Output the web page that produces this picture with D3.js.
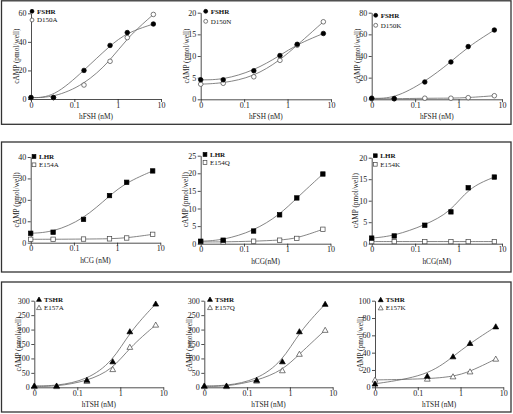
<!DOCTYPE html>
<html><head><meta charset="utf-8">
<script src="https://cdn.jsdelivr.net/npm/d3@7"></script>
<style>body{margin:0;background:#fff}svg{display:block}</style>
</head><body>
<svg id="c" width="513" height="414"></svg>
<script>
// ---- data ----
const doses = [0, 0.033, 0.167, 0.667, 1.667, 6.667];
const xTickValues = [0.01, 0.1, 1, 10];
const xTickLabels = ["0", "0.1", "1", "10"];

const fshr1 = [1, 1, 20, 37.5, 46.5, 52.5];
const d150a = [1, 1, 9.8, 26.4, 43, 59.2];
const fshr2 = [4.5, 4.5, 6.6, 10.1, 12.7, 15.2];
const d150n = [3.5, 3.7, 5.2, 9.0, 12.5, 17.9];
const fshr3 = [1, 0.6, 16, 34.5, 48.7, 64];
const d150k = [0.5, 0.5, 1, 1, 1.5, 3.3];

const lhr4 = [4.4, 4.9, 10.9, 22, 28.2, 33.5];
const e154a = [1.6, 1.6, 1.7, 1.8, 2.2, 3.9];
const lhr5 = [0.7, 1.0, 3.6, 8.2, 13, 19.8];
const e154q = [0.5, 0.5, 0.7, 1.0, 1.5, 4.1];
const lhr6 = [1.3, 1.8, 4.3, 7.4, 13, 15.5];
const e154k = [0.5, 0.5, 0.5, 0.5, 0.5, 0.5];

const tshr7 = [5, 5, 25, 89, 193, 289];
const e157a = [3, 3, 21, 62, 139, 216];
const tshr8 = [5, 5, 25, 89, 193, 288];
const e157q = [3, 3, 22, 58, 115, 198];
const tshr9 = [4, null, 13, 35.4, 50.8, 70];
const e157k = [8.5, null, 9.6, 12.3, 18, 32.7];

const names = [["FSHR","D150A"],["FSHR","D150N"],["FSHR","D150K"],
               ["LHR","E154A"],["LHR","E154Q"],["LHR","E154K"],
               ["TSHR","E157A"],["TSHR","E157Q"],["TSHR","E157K"]];
const series = [[fshr1,d150a],[fshr2,d150n],[fshr3,d150k],
                [lhr4,e154a],[lhr5,e154q],[lhr6,e154k],
                [tshr7,e157a],[tshr8,e157q],[tshr9,e157k]];
const xLabels = ["hFSH (nM)","hFSH (nM)","hFSH (nM)","hCG (nM)","hCG(nM)","hCG(nM)","hTSH (nM)","hTSH (nM)","hTSH (nM)"];
const yLabel = "cAMP (pmol/well)";
const yMaxes = [60, 20, 80, 40, 25, 20, 300, 300, 100];
const ySteps = [20, 5, 20, 10, 5, 5, 50, 50, 20];
const shapes = ["circle","circle","circle","square","square","square","triangle","triangle","triangle"];

// ---- layout (pixels) ----
const layout = [
  {ox:31,   x10:161,   y0:99,    yt:13.3,  lx:32,    ly:11.3,  ldy:8.7, ylx:16.7},
  {ox:200.7,x10:331,   y0:99.3,  yt:12.7,  lx:205.7, ly:11.3,  ldy:10,  ylx:186.7},
  {ox:371.7,x10:502,   y0:99.3,  yt:12.7,  lx:375.7, ly:15.3,  ldy:10,  ylx:357.3},
  {ox:30.7, x10:160.3, y0:242.7, yt:157,   lx:34,    ly:156.5, ldy:8.3, ylx:16},
  {ox:200.7,x10:330.5, y0:243.7, yt:155.7, lx:205,   ly:154.5, ldy:8,   ylx:185},
  {ox:371.7,x10:502,   y0:243.7, yt:157.7, lx:375.3, ly:155.7, ldy:8.6, ylx:355.7},
  {ox:34.3, x10:163.3, y0:387.3, yt:300.7, lx:39,    ly:299.5, ldy:8.2, ylx:18.3},
  {ox:204.3,x10:332.7, y0:387.3, yt:300.7, lx:210,   ly:299.5, ldy:8.2, ylx:189},
  {ox:375,  x10:503.3, y0:387.3, yt:300.7, lx:380.7, ly:299.8, ldy:8.2, ylx:360}
];
const boxes = [[1.5,0.8,509.5,123.5],[1.5,142,509.5,130],[1.5,282,509.5,130]];

const svg = d3.select("#c");
const FONT = "'Liberation Serif','Times New Roman',serif";

boxes.forEach(b => svg.append("rect").attr("x",b[0]).attr("y",b[1]).attr("width",b[2]).attr("height",b[3])
  .attr("fill","none").attr("stroke","#333").attr("stroke-width",1.3));

function marker(g, shape, filled, x, y, s) {
  const fill = filled ? "#000" : "#fff";
  const stroke = filled ? "#000" : "#444";
  if (shape === "circle") {
    g.append("circle").attr("cx",x).attr("cy",y).attr("r",2.3*s).attr("fill",fill).attr("stroke",stroke).attr("stroke-width",0.7);
  } else if (shape === "square") {
    g.append("rect").attr("x",x-2.2*s).attr("y",y-2.2*s).attr("width",4.4*s).attr("height",4.4*s).attr("fill",fill).attr("stroke",stroke).attr("stroke-width",0.7);
  } else {
    g.append("path").attr("d",`M${x},${y-2.9*s}L${x+2.9*s},${y+2.2*s}L${x-2.9*s},${y+2.2*s}Z`).attr("fill",fill).attr("stroke",stroke).attr("stroke-width",0.7);
  }
}

layout.forEach((L, i) => {
  const g = svg.append("g");
  const x = d3.scaleLog().domain([0.01, 10]).range([L.ox, L.x10]);
  const y = d3.scaleLinear().domain([0, yMaxes[i]]).range([L.y0, L.yt]);
  const xv = d => d === 0 ? 0.01 : d;

  // axes
  const xa = g.append("g").attr("transform",`translate(0,${L.y0})`)
    .call(d3.axisBottom(x).tickValues(xTickValues).tickFormat((d,j)=>xTickLabels[j]).tickSize(3).tickSizeOuter(0));
  const ya = g.append("g").attr("transform",`translate(${L.ox},0)`)
    .call(d3.axisLeft(y).tickValues(d3.range(0, yMaxes[i]+0.001, ySteps[i])).tickSize(3).tickSizeOuter(0));
  [xa, ya].forEach(a => {
    a.selectAll("path,line").attr("stroke","#222").attr("stroke-width",0.8);
    a.selectAll("text").attr("font-family",FONT).attr("font-size","8px").attr("fill","#222");
  });
  xa.selectAll("text").attr("dy","0.6em").attr("y",4);
  ya.selectAll("text").attr("x",-4.5);

  // labels
  g.append("text").attr("x",(L.ox+L.x10)/2).attr("y",L.y0+20).attr("text-anchor","middle")
    .attr("font-family",FONT).attr("font-size","7.3px").attr("fill","#222").text(xLabels[i]);
  g.append("text").attr("transform",`translate(${L.ylx},${(L.y0+L.yt)/2}) rotate(-90)`).attr("text-anchor","middle")
    .attr("dy","0.35em").attr("font-family",FONT).attr("font-size","7.3px").attr("fill","#222").text(yLabel);

  // curves
  const line = d3.line().x(d=>x(xv(d[0]))).y(d=>y(d[1])).curve(d3.curveBasis);
  series[i].forEach(s => {
    const pts = doses.map((d,k)=>[d,s[k]]).filter(p=>p[1]!==null);
    g.append("path").attr("d",line(pts)).attr("fill","none").attr("stroke","#666").attr("stroke-width",0.8);
  });
  // markers: open first, filled on top
  [1,0].forEach(si => {
    doses.forEach((d,k) => {
      const v = series[i][si][k];
      if (v === null) return;
      marker(g, shapes[i], si===0, x(xv(d)), y(v), 1);
    });
  });

  // legend
  [0,1].forEach(si => {
    const ly = L.ly + si*L.ldy;
    marker(g, shapes[i], si===0, L.lx, ly, 0.85);
    g.append("text").attr("x",L.lx+5).attr("y",ly).attr("dy","0.33em")
      .attr("font-family",FONT).attr("font-size","7px").attr("font-weight",si===0?"bold":"normal")
      .attr("fill","#111").text(names[i][si]);
  });
});
</script>
</body></html>
